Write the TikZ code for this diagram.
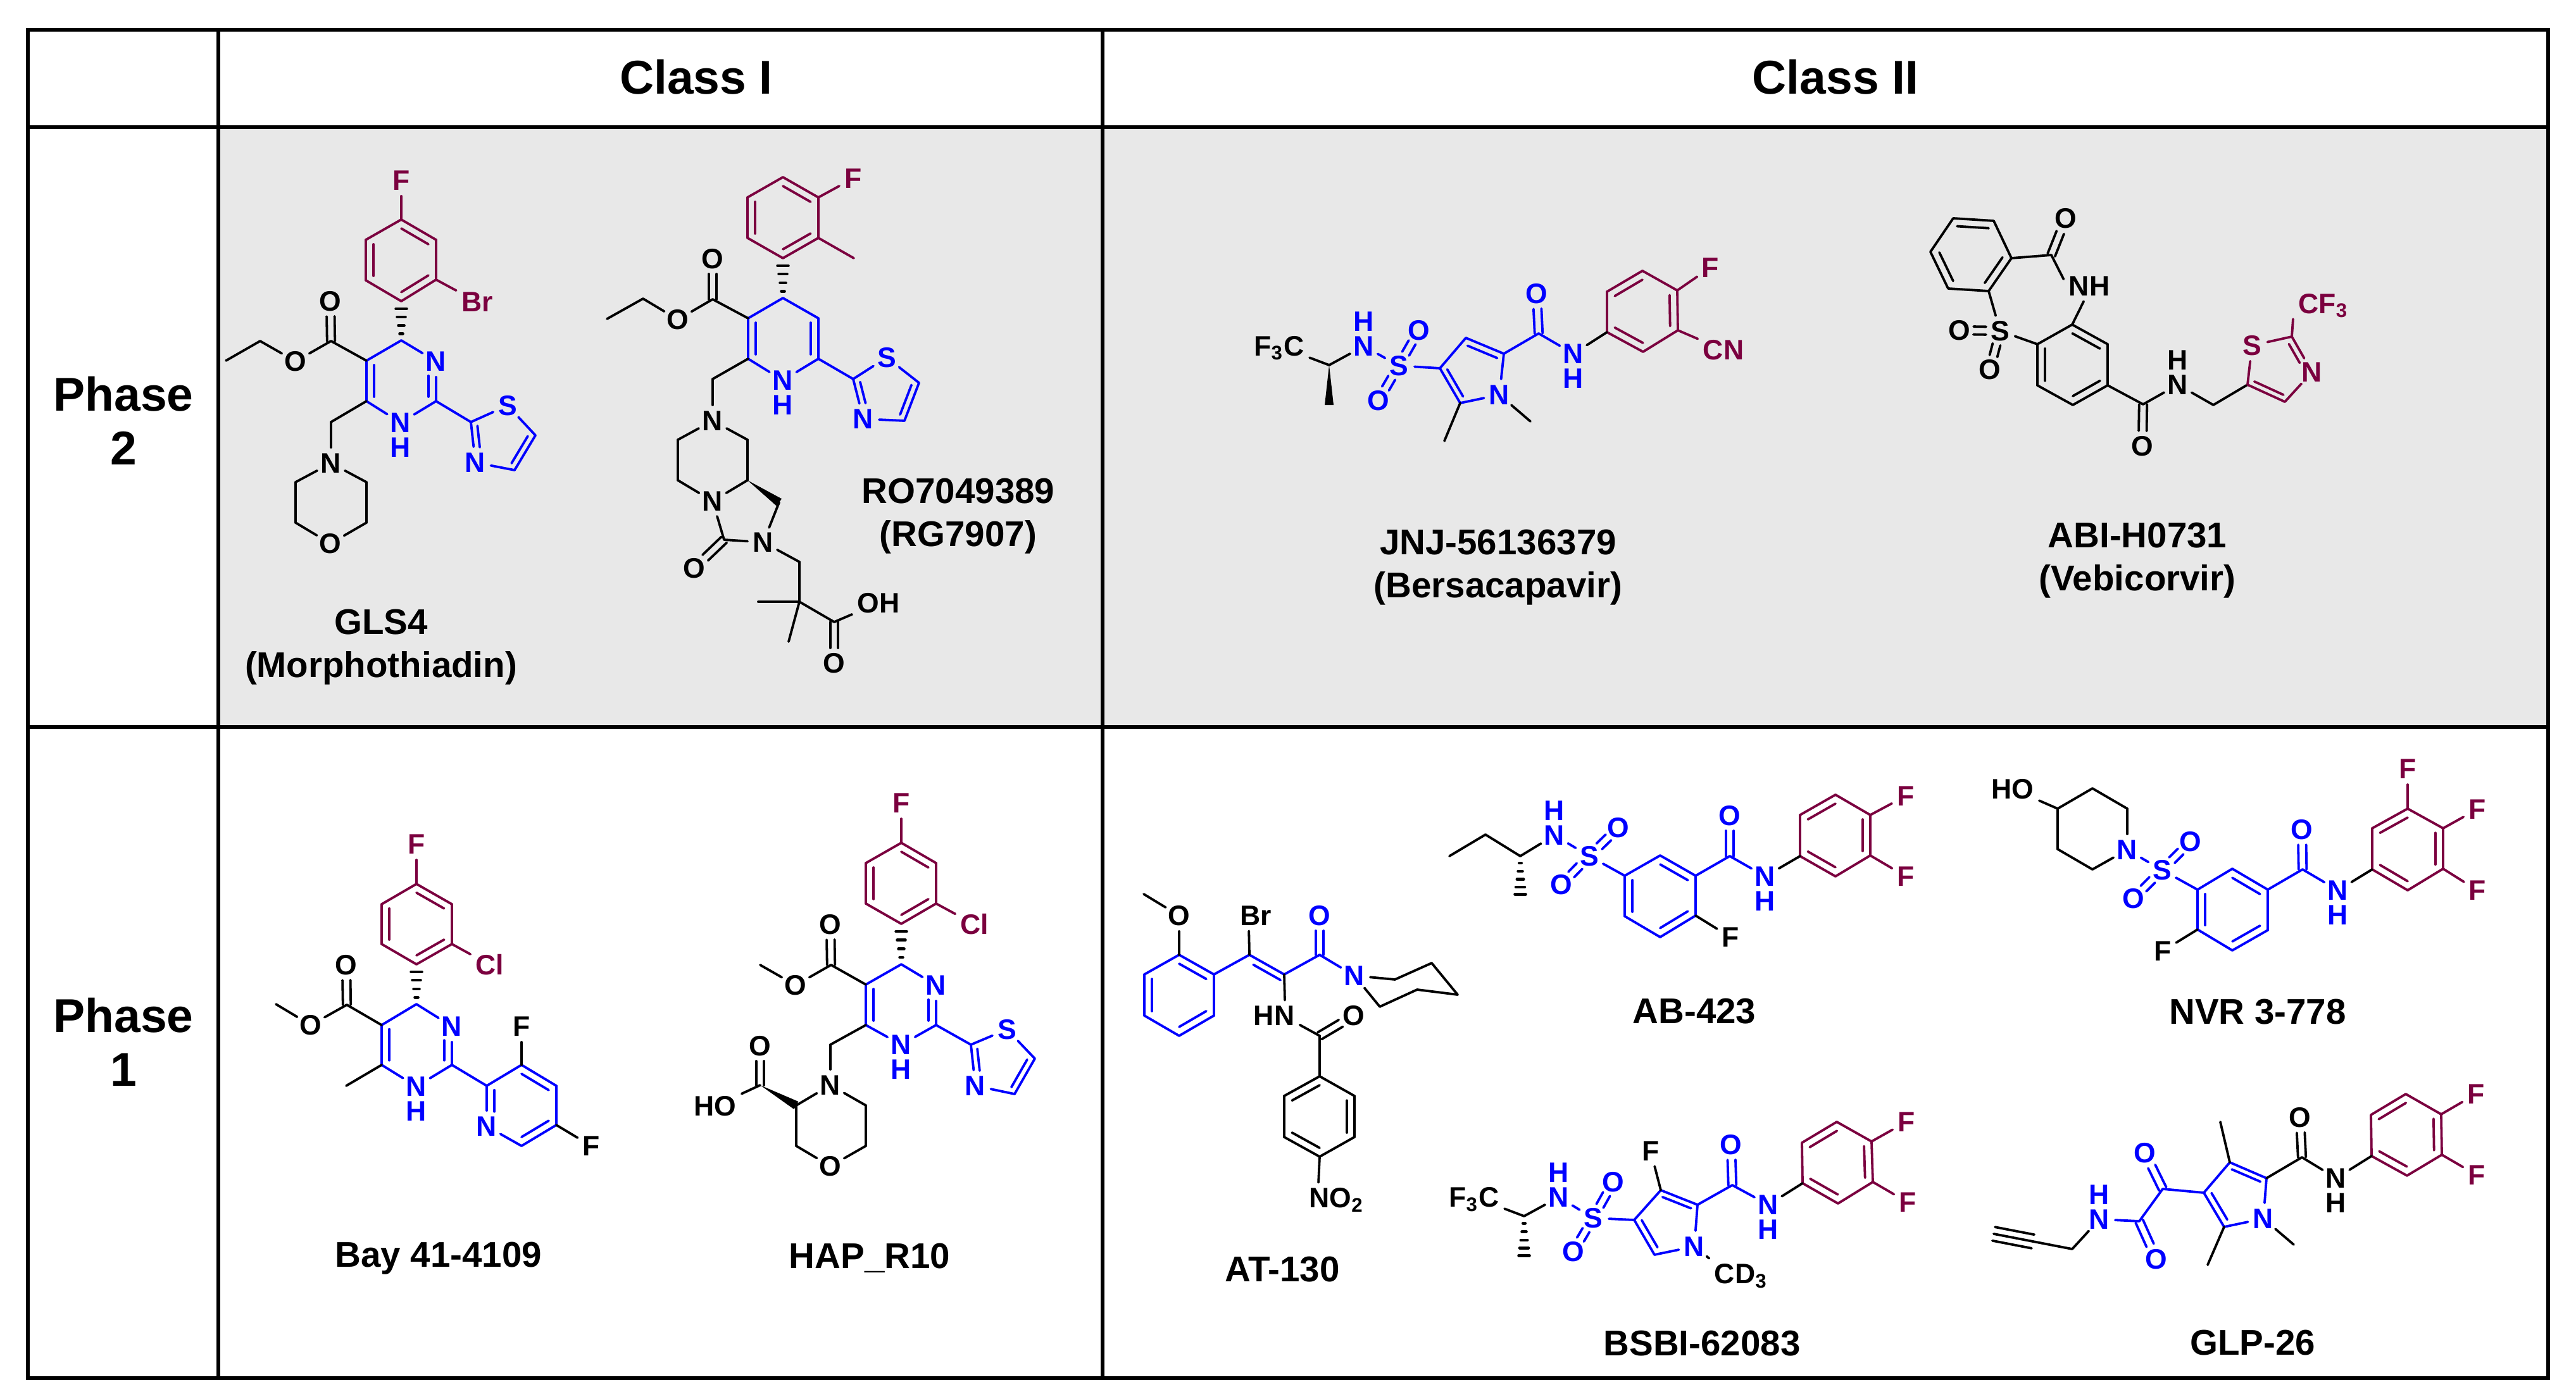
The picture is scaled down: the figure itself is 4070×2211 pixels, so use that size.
\documentclass[tikz,border=0pt]{standalone}
\usepackage{fontspec}
\setmainfont{Liberation Sans}
\usetikzlibrary{calc,positioning}
\definecolor{hblue}{HTML}{0000FF}
\definecolor{hplum}{HTML}{7B003F}
\definecolor{cellgray}{HTML}{E8E8E8}
\tikzset{
	atom/.style={font=\bfseries\fontsize{8.9}{10}\selectfont,circle,minimum size=9.6pt,inner sep=0pt,text height=6.3pt,text depth=0pt},
	atomb/.style={atom,text=hblue},
	atomm/.style={atom,text=hplum},
	group/.style={font=\bfseries\fontsize{8.9}{10}\selectfont,rectangle,inner sep=1.5pt,text height=6.3pt,text depth=0pt},
	groupm/.style={group,text=hplum},
	bond/.style={line width=.76pt,line cap=round,line join=round},
	sulf/.style={shorten <=4.4pt,shorten >=4.4pt},
	title/.style={font=\bfseries\fontsize{11.3}{13.6}\selectfont,align=center},
	head/.style={font=\bfseries\fontsize{15}{17}\selectfont,align=center},
	grid/.style={line width=1.1pt},
	gridv/.style={line width=1.3pt}
}
% inner line of a ring double bond
\newcommand{\inbond}[4][]{\draw[bond,#1] ($(#2)!.22!(#4)$) -- ($(#3)!.22!(#4)$);}
% two lines side by side, stopping short of the second atom
\newcommand{\dbl}[3][]{
	\draw[bond,shorten >=4.8pt,#1] ($(#2)!1.25pt!90:(#3)$) -- ($(#3)!1.25pt!-90:(#2)$);
	\draw[bond,shorten >=4.8pt,#1] ($(#2)!1.25pt!-90:(#3)$) -- ($(#3)!1.25pt!90:(#2)$);}
\newcommand{\wedgeb}[2]{\fill (#1) -- ($(#2)!1.4pt!90:(#1)$) -- ($(#2)!1.4pt!-90:(#1)$) -- cycle;}
\newcommand{\dashb}[4]{\draw[bond,line width=.9pt] ($(#1)!#3!(#2)!#4pt!90:(#2)$) -- ($(#1)!#3!(#2)!#4pt!-90:(#2)$);}
\newcommand{\hashb}[2]{\dashb{#1}{#2}{.17}{.5}\dashb{#1}{#2}{.38}{.9}\dashb{#1}{#2}{.6}{1.3}\dashb{#1}{#2}{.81}{1.7}}
\newcommand{\hashc}[2]{\dashb{#1}{#2}{.18}{.35}\dashb{#1}{#2}{.39}{.7}\dashb{#1}{#2}{.6}{1.05}\dashb{#1}{#2}{.8}{1.4}\dashb{#1}{#2}{.99}{1.7}}

\begin{document}
\begin{tikzpicture}[x=.2pt,y=-.2pt]
	\useasboundingbox (0,0) rectangle (4070,2211);
	% table
	\fill[cellgray] (345,201) rectangle (4026,1149);
	\draw[grid] (44,47) rectangle (4026,2178);
	\draw[grid] (44,201) -- (4026,201);
	\draw[grid] (44,1149) -- (4026,1149);
	\draw[gridv] (345,47) -- (345,2178);
	\draw[gridv] (1742,47) -- (1742,2178);
	\node[head] (class1) at (1100,122) {Class I};
	\node[head] (class2) at (2900,122) {Class II};
	\node[head] (phase2) at (195,665) {Phase\\2};
	\node[head] (phase1) at (195,1647) {Phase\\1};

	% GLS4
	\begin{scope}[name prefix=gls-]
		\coordinate (a1) at (634,347); \coordinate (a2) at (689,379); \coordinate (a3) at (689,442);
		\coordinate (a4) at (634,476); \coordinate (a5) at (578,443); \coordinate (a6) at (578,379);
		\coordinate (ac) at (634,411);
		\node[atomm] (f) at (634,285) {F};
		\node[groupm] (br) at (754,477) {Br};
		\coordinate (c4) at (634,538); \coordinate (c2) at (689,634); \coordinate (c6) at (579,634);
		\coordinate (c5) at (579,570); \coordinate (pc) at (634,602);
		\node[atomb] (n3) at (689,571) {N};
		\node[atomb] (n1) at (633,668) {N};
		\node[atomb,below=-2.2pt of n1] (h1) {H};
		\coordinate (ce) at (523,539); \coordinate (cm) at (411,539); \coordinate (me) at (357,570);
		\node[atom] (oe) at (522,476) {O};
		\node[atom] (oa) at (467,571) {O};
		\coordinate (cl) at (523,667); \coordinate (m1) at (467,762); \coordinate (m2) at (467,826);
		\coordinate (m3) at (579,826); \coordinate (m4) at (579,762);
		\node[atom] (nm) at (523,732) {N};
		\node[atom] (om) at (522,859) {O};
		\coordinate (t2) at (744,667); \coordinate (t5) at (846,688); \coordinate (t4) at (813,743);
		\coordinate (tc) at (791,694);
		\node[atomb] (ts) at (802,641) {S};
		\node[atomb] (tn) at (751,731) {N};
		\path[bond,hplum]
		(a1) edge (a2) (a2) edge (a3) (a3) edge (a4) (a4) edge (a5) (a5) edge (a6) (a6) edge (a1)
		(a1) edge (f) (a3) edge (br);
		\inbond[hplum]{a1}{a2}{ac} \inbond[hplum]{a3}{a4}{ac} \inbond[hplum]{a5}{a6}{ac}
		\hashb{c4}{a4}
		\path[bond,hblue]
		(c4) edge (n3) (n3) edge (c2) (c2) edge (n1) (n1) edge (c6) (c6) edge (c5) (c5) edge (c4)
		(c2) edge (t2) (t2) edge (ts) (ts) edge (t5) (t5) edge (t4) (t4) edge (tn) (tn) edge (t2);
		\inbond[hblue]{c5}{c6}{pc} \inbond[hblue,shorten <=3.2pt]{n3}{c2}{pc}
		\inbond[hblue]{t5}{t4}{tc} \inbond[hblue,shorten >=3.2pt]{t2}{tn}{tc}
		\path[bond]
		(c5) edge (ce) (ce) edge (oa) (oa) edge (cm) (cm) edge (me)
		(c6) edge (cl) (cl) edge (nm) (nm) edge (m1) (m1) edge (m2) (m2) edge (om)
		(om) edge (m3) (m3) edge (m4) (m4) edge (nm);
		\dbl{ce}{oe}
		\node[title] (label) at (602,1023) {GLS4\\(Morphothiadin)};
	\end{scope}

	% RO7049389
	\begin{scope}[name prefix=ro-]
		\coordinate (a1) at (1237,280); \coordinate (a2) at (1293,312); \coordinate (a3) at (1293,376);
		\coordinate (a4) at (1237,408); \coordinate (a5) at (1181,376); \coordinate (a6) at (1181,312);
		\coordinate (ac) at (1237,344); \coordinate (mar) at (1349,408);
		\node[atomm] (f) at (1348,282) {F};
		\coordinate (c4) at (1237,471); \coordinate (c3) at (1182,503); \coordinate (c2) at (1182,567);
		\coordinate (c6) at (1293,567); \coordinate (c5) at (1293,503); \coordinate (pc) at (1237,535);
		\node[atomb] (n1) at (1237,601) {N};
		\node[atomb,below=-2.2pt of n1] (h1) {H};
		\coordinate (ce) at (1126,473); \coordinate (cm) at (1016,472); \coordinate (me) at (959,504);
		\node[atom] (oe) at (1126,409) {O};
		\node[atom] (oa) at (1071,505) {O};
		\coordinate (cl) at (1126,599); \coordinate (p1) at (1071,695); \coordinate (p2) at (1071,759);
		\coordinate (p3) at (1181,759); \coordinate (p4) at (1181,695); \coordinate (w1) at (1231,794);
		\coordinate (co) at (1144,853); \coordinate (ch) at (1263,888); \coordinate (cq) at (1263,951);
		\coordinate (q1) at (1198,951); \coordinate (q2) at (1246,1014); \coordinate (ca) at (1318,983);
		\node[atom] (n4) at (1126,665) {N};
		\node[atom] (n5) at (1126,792) {N};
		\node[atom] (n6) at (1206,857) {N};
		\node[atom] (ou) at (1097,898) {O};
		\node[group] (oh) at (1388,953) {OH};
		\node[atom] (oc) at (1318,1048) {O};
		\coordinate (t2) at (1348,599); \coordinate (t5) at (1452,605); \coordinate (t4) at (1429,665);
		\coordinate (tc) at (1398,620);
		\node[atomb] (ts) at (1401,565) {S};
		\node[atomb] (tn) at (1364,662) {N};
		\path[bond,hplum]
		(a1) edge (a2) (a2) edge (a3) (a3) edge (a4) (a4) edge (a5) (a5) edge (a6) (a6) edge (a1)
		(a2) edge (f) (a3) edge (mar);
		\inbond[hplum]{a1}{a2}{ac} \inbond[hplum]{a3}{a4}{ac} \inbond[hplum]{a5}{a6}{ac}
		\hashb{c4}{a4}
		\path[bond,hblue]
		(c4) edge (c3) (c3) edge (c2) (c2) edge (n1) (n1) edge (c6) (c6) edge (c5) (c5) edge (c4)
		(c6) edge (t2) (t2) edge (ts) (ts) edge (t5) (t5) edge (t4) (t4) edge (tn) (tn) edge (t2);
		\inbond[hblue]{c3}{c2}{pc} \inbond[hblue]{c5}{c6}{pc}
		\inbond[hblue]{t5}{t4}{tc} \inbond[hblue,shorten >=3.2pt]{t2}{tn}{tc}
		\path[bond]
		(c3) edge (ce) (ce) edge (oa) (oa) edge (cm) (cm) edge (me)
		(c2) edge (cl) (cl) edge (n4) (n4) edge (p1) (p1) edge (p2) (p2) edge (n5)
		(n5) edge (p3) (p3) edge (p4) (p4) edge (n4)
		(w1) edge (n6) (n6) edge (co) (co) edge (n5)
		(n6) edge (ch) (ch) edge (cq) (cq) edge (q1) (cq) edge (q2) (cq) edge (ca) (ca) edge (oh);
		\dbl{ce}{oe} \dbl{co}{ou} \dbl{ca}{oc}
		\wedgeb{p3}{w1}
		\node[title] (label) at (1514,816) {RO7049389\\(RG7907)};
	\end{scope}

	% JNJ-56136379
	\begin{scope}[name prefix=jnj-]
		\node[group] (cf) at (2021,547) {F\textsubscript{3}C};
		\coordinate (ch) at (2100,577); \coordinate (mw) at (2100,640);
		\node[atomb] (n) at (2155,547) {N};
		\node[atomb,above=-2.2pt of n] (h) {H};
		\node[atomb] (s) at (2210,578) {S};
		\node[atomb] (o1) at (2242,522) {O};
		\node[atomb] (o2) at (2178,633) {O};
		\coordinate (c3) at (2275,582); \coordinate (c4) at (2316,534); \coordinate (c5) at (2376,559);
		\coordinate (c2) at (2307,637); \coordinate (pc) at (2328,590);
		\coordinate (m1) at (2282,697); \coordinate (m2) at (2418,666);
		\node[atomb] (np) at (2369,624) {N};
		\coordinate (ca) at (2431,527);
		\node[atomb] (oa) at (2428,464) {O};
		\node[atomb] (na) at (2486,559) {N};
		\node[atomb,below=-2.2pt of na] (ha) {H};
		\coordinate (a1) at (2539,525); \coordinate (a2) at (2539,461); \coordinate (a3) at (2595,428);
		\coordinate (a4) at (2650,459); \coordinate (a5) at (2651,522); \coordinate (a6) at (2596,556);
		\coordinate (ac) at (2595,492);
		\node[atomm] (f) at (2702,423) {F};
		\node[groupm] (cn) at (2723,553) {CN};
		\path[bond,hplum]
		(a1) edge (a2) (a2) edge (a3) (a3) edge (a4) (a4) edge (a5) (a5) edge (a6) (a6) edge (a1)
		(a4) edge (f) (a5) edge (cn);
		\inbond[hplum]{a2}{a3}{ac} \inbond[hplum]{a4}{a5}{ac} \inbond[hplum]{a6}{a1}{ac}
		\path[bond,hblue]
		(n) edge (s) (s) edge (c3) (c3) edge (c4) (c4) edge (c5) (c5) edge (np) (np) edge (c2) (c2) edge (c3)
		(c5) edge (ca) (ca) edge (na);
		\inbond[hblue]{c3}{c2}{pc} \inbond[hblue]{c4}{c5}{pc}
		\dbl[hblue,sulf]{s}{o1} \dbl[hblue,sulf]{s}{o2} \dbl[hblue]{ca}{oa}
		\path[bond]
		(cf) edge (ch) (ch) edge (n) (c2) edge (m1) (np) edge (m2) (na) edge (a1);
		\wedgeb{ch}{mw}
		\node[title] (label) at (2367,897) {JNJ-56136379\\(Bersacapavir)};
	\end{scope}

	% ABI-H0731
	\begin{scope}[name prefix=abi-]
		\coordinate (b1) at (3086,345); \coordinate (b2) at (3150,349); \coordinate (b3) at (3178,408);
		\coordinate (b4) at (3142,460); \coordinate (b5) at (3078,456); \coordinate (b6) at (3050,398);
		\coordinate (bc) at (3114,402);
		\coordinate (co) at (3241,403);
		\node[atom] (oc) at (3264,345) {O};
		\node[group] (nh) at (3301,452) {NH};
		\node[atom] (s) at (3160,523) {S};
		\node[atom] (o1) at (3096,522) {O};
		\node[atom] (o2) at (3144,584) {O};
		\coordinate (r1) at (3274,513); \coordinate (r2) at (3330,544); \coordinate (r3) at (3330,609);
		\coordinate (r4) at (3275,640); \coordinate (r5) at (3219,609); \coordinate (r6) at (3219,544);
		\coordinate (rc) at (3275,576);
		\coordinate (ca) at (3386,639); \coordinate (ch) at (3497,640);
		\node[atom] (oa) at (3385,705) {O};
		\node[atom] (na) at (3441,608) {N};
		\node[atom,above=-2.2pt of na] (ha) {H};
		\coordinate (t5) at (3551,608); \coordinate (t2) at (3621,532); \coordinate (t4) at (3610,635);
		\coordinate (tc) at (3600,585);
		\node[atomm] (ts) at (3558,546) {S};
		\node[atomm] (tn) at (3653,588) {N};
		\node[groupm] (cf) at (3671,480) {CF\textsubscript{3}};
		\path[bond]
		(b1) edge (b2) (b2) edge (b3) (b3) edge (b4) (b4) edge (b5) (b5) edge (b6) (b6) edge (b1)
		(b3) edge (co) (co) edge (nh.165) (nh.250) edge (r1) (b4) edge (s) (s) edge (r6)
		(r1) edge (r2) (r2) edge (r3) (r3) edge (r4) (r4) edge (r5) (r5) edge (r6) (r6) edge (r1)
		(r3) edge (ca) (ca) edge (na) (na) edge (ch) (ch) edge (t5);
		\inbond{b1}{b2}{bc} \inbond{b3}{b4}{bc} \inbond{b5}{b6}{bc}
		\inbond{r1}{r2}{rc} \inbond{r3}{r4}{rc} \inbond{r5}{r6}{rc}
		\dbl{co}{oc} \dbl{ca}{oa} \dbl[sulf]{s}{o1} \dbl[sulf]{s}{o2}
		\path[bond,hplum]
		(t5) edge (ts) (ts) edge (t2) (t2) edge (tn) (tn) edge (t4) (t4) edge (t5) (t2) edge (cf.south west);
		\inbond[hplum]{t5}{t4}{tc} \inbond[hplum,shorten >=3.2pt]{t2}{tn}{tc}
		\node[title] (label) at (3377,886) {ABI-H0731\\(Vebicorvir)};
	\end{scope}

	% Bay 41-4109
	\begin{scope}[name prefix=bay-]
		\coordinate (a1) at (658,1397); \coordinate (a2) at (714,1429); \coordinate (a3) at (714,1492);
		\coordinate (a4) at (658,1524); \coordinate (a5) at (603,1492); \coordinate (a6) at (603,1429);
		\coordinate (ac) at (658,1460);
		\node[atomm] (f) at (658,1334) {F};
		\node[groupm] (cl) at (774,1525) {Cl};
		\coordinate (c4) at (658,1587); \coordinate (c2) at (714,1683); \coordinate (c6) at (603,1683);
		\coordinate (c5) at (603,1620); \coordinate (pc) at (658,1650);
		\node[atomb] (n3) at (714,1622) {N};
		\node[atomb] (n1) at (658,1717) {N};
		\node[atomb,below=-2.2pt of n1] (h1) {H};
		\coordinate (ce) at (548,1588); \coordinate (me) at (436,1587); \coordinate (mc) at (547,1716);
		\node[atom] (oe) at (547,1525) {O};
		\node[atom] (oa) at (491,1620) {O};
		\coordinate (y2) at (769,1716); \coordinate (y3) at (824,1683); \coordinate (y4) at (879,1716);
		\coordinate (y5) at (879,1778); \coordinate (y6) at (824,1811); \coordinate (yc) at (824,1747);
		\node[atomb] (yn) at (769,1780) {N};
		\node[atom] (f3) at (824,1622) {F};
		\node[atom] (f5) at (934,1811) {F};
		\path[bond,hplum]
		(a1) edge (a2) (a2) edge (a3) (a3) edge (a4) (a4) edge (a5) (a5) edge (a6) (a6) edge (a1)
		(a1) edge (f) (a3) edge (cl);
		\inbond[hplum]{a1}{a2}{ac} \inbond[hplum]{a3}{a4}{ac} \inbond[hplum]{a5}{a6}{ac}
		\hashb{c4}{a4}
		\path[bond,hblue]
		(c4) edge (n3) (n3) edge (c2) (c2) edge (n1) (n1) edge (c6) (c6) edge (c5) (c5) edge (c4)
		(c2) edge (y2) (y2) edge (y3) (y3) edge (y4) (y4) edge (y5) (y5) edge (y6) (y6) edge (yn) (yn) edge (y2);
		\inbond[hblue]{c5}{c6}{pc} \inbond[hblue,shorten <=3.2pt]{n3}{c2}{pc}
		\inbond[hblue]{y3}{y4}{yc} \inbond[hblue]{y5}{y6}{yc} \inbond[hblue,shorten >=3.2pt]{y2}{yn}{yc}
		\path[bond]
		(c5) edge (ce) (ce) edge (oa) (oa) edge (me) (c6) edge (mc) (y3) edge (f3) (y5) edge (f5);
		\dbl{ce}{oe}
		\node[title] (label) at (693,1989) {Bay 41-4109};
	\end{scope}

	% HAP_R10
	\begin{scope}[name prefix=hap-]
		\coordinate (a1) at (1424,1332); \coordinate (a2) at (1479,1364); \coordinate (a3) at (1479,1428);
		\coordinate (a4) at (1424,1460); \coordinate (a5) at (1368,1428); \coordinate (a6) at (1368,1364);
		\coordinate (ac) at (1424,1396);
		\node[atomm] (f) at (1424,1269) {F};
		\node[groupm] (cl) at (1540,1461) {Cl};
		\coordinate (c4) at (1424,1524); \coordinate (c2) at (1479,1620); \coordinate (c6) at (1368,1620);
		\coordinate (c5) at (1368,1556); \coordinate (pc) at (1424,1588);
		\node[atomb] (n3) at (1479,1557) {N};
		\node[atomb] (n1) at (1424,1651) {N};
		\node[atomb,below=-2.2pt of n1] (h1) {H};
		\coordinate (ce) at (1313,1525); \coordinate (me) at (1201,1525);
		\node[atom] (oe) at (1312,1461) {O};
		\node[atom] (oa) at (1257,1557) {O};
		\coordinate (cl2) at (1312,1651); \coordinate (m1) at (1258,1747); \coordinate (m2) at (1258,1811);
		\coordinate (m3) at (1368,1811); \coordinate (m4) at (1368,1747); \coordinate (ca) at (1201,1715);
		\node[atom] (nm) at (1312,1715) {N};
		\node[atom] (om) at (1312,1843) {O};
		\node[atom] (oc) at (1201,1653) {O};
		\node[group] (ho) at (1130,1748) {HO};
		\coordinate (t2) at (1534,1651); \coordinate (t5) at (1635,1673); \coordinate (t4) at (1603,1729);
		\coordinate (tc) at (1580,1680);
		\node[atomb] (ts) at (1591,1627) {S};
		\node[atomb] (tn) at (1541,1716) {N};
		\path[bond,hplum]
		(a1) edge (a2) (a2) edge (a3) (a3) edge (a4) (a4) edge (a5) (a5) edge (a6) (a6) edge (a1)
		(a1) edge (f) (a3) edge (cl);
		\inbond[hplum]{a1}{a2}{ac} \inbond[hplum]{a3}{a4}{ac} \inbond[hplum]{a5}{a6}{ac}
		\hashb{c4}{a4}
		\path[bond,hblue]
		(c4) edge (n3) (n3) edge (c2) (c2) edge (n1) (n1) edge (c6) (c6) edge (c5) (c5) edge (c4)
		(c2) edge (t2) (t2) edge (ts) (ts) edge (t5) (t5) edge (t4) (t4) edge (tn) (tn) edge (t2);
		\inbond[hblue]{c5}{c6}{pc} \inbond[hblue,shorten <=3.2pt]{n3}{c2}{pc}
		\inbond[hblue]{t5}{t4}{tc} \inbond[hblue,shorten >=3.2pt]{t2}{tn}{tc}
		\path[bond]
		(c5) edge (ce) (ce) edge (oa) (oa) edge (me)
		(c6) edge (cl2) (cl2) edge (nm) (nm) edge (m1) (m1) edge (m2) (m2) edge (om)
		(om) edge (m3) (m3) edge (m4) (m4) edge (nm) (ca) edge (ho);
		\dbl{ce}{oe} \dbl{ca}{oc}
		\wedgeb{ca}{m1}
		\node[title] (label) at (1374,1988) {HAP\_R10};
	\end{scope}

	% AT-130
	\begin{scope}[name prefix=at-]
		\coordinate (a1) at (1863,1509); \coordinate (a2) at (1918,1540); \coordinate (a3) at (1918,1605);
		\coordinate (a4) at (1863,1637); \coordinate (a5) at (1808,1605); \coordinate (a6) at (1808,1540);
		\coordinate (ac) at (1863,1573); \coordinate (me) at (1807,1413);
		\node[atom] (om) at (1863,1447) {O};
		\coordinate (v1) at (1974,1509); \coordinate (v2) at (2029,1540); \coordinate (vc) at (2002,1580);
		\coordinate (ck) at (2085,1509);
		\node[group] (br) at (1984,1447) {Br};
		\node[atomb] (ok) at (2085,1447) {O};
		\node[atomb] (np) at (2140,1542) {N};
		\coordinate (p1) at (2204,1548); \coordinate (p2) at (2262,1522); \coordinate (p3) at (2303,1572);
		\coordinate (p4) at (2239,1564); \coordinate (p5) at (2180,1591);
		\node[group] (hn) at (2013,1605) {HN};
		\coordinate (ca) at (2085,1637);
		\node[atom] (oa) at (2139,1605) {O};
		\coordinate (b1) at (2085,1701); \coordinate (b2) at (2140,1732); \coordinate (b3) at (2140,1797);
		\coordinate (b4) at (2085,1828); \coordinate (b5) at (2029,1797); \coordinate (b6) at (2029,1732);
		\coordinate (bc) at (2085,1765);
		\node[group] (no) at (2112,1893) {NO\textsubscript{2}};
		\path[bond,hblue]
		(a1) edge (a2) (a2) edge (a3) (a3) edge (a4) (a4) edge (a5) (a5) edge (a6) (a6) edge (a1)
		(a2) edge (v1) (v1) edge (v2) (v2) edge (ck) (ck) edge (np);
		\inbond[hblue]{a1}{a2}{ac} \inbond[hblue]{a3}{a4}{ac} \inbond[hblue]{a5}{a6}{ac}
		\inbond[hblue]{v1}{v2}{vc}
		\dbl[hblue]{ck}{ok}
		\path[bond]
		(a1) edge (om) (om) edge (me) (v1) edge (br.246) (v2) edge (hn.55) (hn.-20) edge (ca)
		(ca) edge (b1) (np) edge (p1) (p1) edge (p2) (p2) edge (p3) (p3) edge (p4) (p4) edge (p5) (p5) edge (np)
		(b1) edge (b2) (b2) edge (b3) (b3) edge (b4) (b4) edge (b5) (b5) edge (b6) (b6) edge (b1)
		(b4) edge (no.140);
		\inbond{b1}{b6}{bc} \inbond{b2}{b3}{bc} \inbond{b4}{b5}{bc}
		\dbl{ca}{oa}
		\node[title] (label) at (2026,2006) {AT-130};
	\end{scope}

	% AB-423
	\begin{scope}[name prefix=ab-]
		\coordinate (me) at (2290,1353); \coordinate (cm) at (2347,1319); \coordinate (ch) at (2402,1353);
		\coordinate (mh) at (2402,1414);
		\node[atomb] (n) at (2456,1320) {N};
		\node[atomb,above=-2.2pt of n] (h) {H};
		\node[atomb] (s) at (2511,1353) {S};
		\node[atomb] (o1) at (2557,1308) {O};
		\node[atomb] (o2) at (2467,1398) {O};
		\coordinate (r1) at (2567,1384); \coordinate (r2) at (2623,1352); \coordinate (r3) at (2679,1384);
		\coordinate (r4) at (2679,1447); \coordinate (r5) at (2623,1481); \coordinate (r6) at (2567,1448);
		\coordinate (rc) at (2623,1416);
		\node[atom] (fr) at (2734,1481) {F};
		\coordinate (ca) at (2733,1353);
		\node[atomb] (oa) at (2733,1289) {O};
		\node[atomb] (na) at (2789,1385) {N};
		\node[atomb,below=-2.2pt of na] (ha) {H};
		\coordinate (a1) at (2844,1353); \coordinate (a2) at (2844,1288); \coordinate (a3) at (2900,1256);
		\coordinate (a4) at (2955,1288); \coordinate (a5) at (2955,1352); \coordinate (a6) at (2900,1385);
		\coordinate (ac) at (2900,1320);
		\node[atomm] (f1) at (3011,1258) {F};
		\node[atomm] (f2) at (3011,1385) {F};
		\path[bond,hplum]
		(a1) edge (a2) (a2) edge (a3) (a3) edge (a4) (a4) edge (a5) (a5) edge (a6) (a6) edge (a1)
		(a4) edge (f1) (a5) edge (f2);
		\inbond[hplum]{a2}{a3}{ac} \inbond[hplum]{a4}{a5}{ac} \inbond[hplum]{a6}{a1}{ac}
		\path[bond,hblue]
		(n) edge (s) (s) edge (r1)
		(r1) edge (r2) (r2) edge (r3) (r3) edge (r4) (r4) edge (r5) (r5) edge (r6) (r6) edge (r1)
		(r3) edge (ca) (ca) edge (na);
		\inbond[hblue]{r2}{r3}{rc} \inbond[hblue]{r4}{r5}{rc} \inbond[hblue]{r6}{r1}{rc}
		\dbl[hblue,sulf]{s}{o1} \dbl[hblue,sulf]{s}{o2} \dbl[hblue]{ca}{oa}
		\path[bond]
		(me) edge (cm) (cm) edge (ch) (ch) edge (n) (r4) edge (fr) (na) edge (a1);
		\hashc{ch}{mh}
		\node[title] (label) at (2677,1598) {AB-423};
	\end{scope}

	% NVR 3-778
	\begin{scope}[name prefix=nvr-]
		\node[group] (ho) at (3180,1247) {HO};
		\coordinate (p1) at (3251,1278); \coordinate (p2) at (3306,1246); \coordinate (p3) at (3361,1278);
		\coordinate (p5) at (3306,1374); \coordinate (p6) at (3251,1342);
		\node[atomb] (n) at (3361,1343) {N};
		\node[atomb] (s) at (3416,1375) {S};
		\node[atomb] (o1) at (3461,1330) {O};
		\node[atomb] (o2) at (3371,1420) {O};
		\coordinate (r1) at (3472,1406); \coordinate (r2) at (3527,1373); \coordinate (r3) at (3583,1406);
		\coordinate (r4) at (3583,1470); \coordinate (r5) at (3527,1502); \coordinate (r6) at (3472,1469);
		\coordinate (rc) at (3527,1438);
		\node[atom] (fr) at (3417,1503) {F};
		\coordinate (ca) at (3638,1374);
		\node[atomb] (oa) at (3637,1311) {O};
		\node[atomb] (na) at (3694,1407) {N};
		\node[atomb,below=-2.2pt of na] (ha) {H};
		\coordinate (a1) at (3748,1374); \coordinate (a2) at (3748,1309); \coordinate (a3) at (3804,1278);
		\coordinate (a4) at (3860,1309); \coordinate (a5) at (3860,1373); \coordinate (a6) at (3804,1407);
		\coordinate (ac) at (3804,1342);
		\node[atomm] (f1) at (3804,1215) {F};
		\node[atomm] (f2) at (3914,1279) {F};
		\node[atomm] (f3) at (3914,1407) {F};
		\path[bond,hplum]
		(a1) edge (a2) (a2) edge (a3) (a3) edge (a4) (a4) edge (a5) (a5) edge (a6) (a6) edge (a1)
		(a3) edge (f1) (a4) edge (f2) (a5) edge (f3);
		\inbond[hplum]{a2}{a3}{ac} \inbond[hplum]{a4}{a5}{ac} \inbond[hplum]{a6}{a1}{ac}
		\path[bond,hblue]
		(n) edge (s) (s) edge (r1)
		(r1) edge (r2) (r2) edge (r3) (r3) edge (r4) (r4) edge (r5) (r5) edge (r6) (r6) edge (r1)
		(r3) edge (ca) (ca) edge (na);
		\inbond[hblue]{r2}{r3}{rc} \inbond[hblue]{r4}{r5}{rc} \inbond[hblue]{r6}{r1}{rc}
		\dbl[hblue,sulf]{s}{o1} \dbl[hblue,sulf]{s}{o2} \dbl[hblue]{ca}{oa}
		\path[bond]
		(ho) edge (p1) (p1) edge (p2) (p2) edge (p3) (p3) edge (n) (n) edge (p5) (p5) edge (p6) (p6) edge (p1)
		(r6) edge (fr) (na) edge (a1);
		\node[title] (label) at (3567,1599) {NVR 3-778};
	\end{scope}

	% BSBI-62083
	\begin{scope}[name prefix=bsbi-]
		\node[group] (cf) at (2329,1892) {F\textsubscript{3}C};
		\coordinate (ch) at (2408,1922); \coordinate (mh) at (2408,1985);
		\node[atomb] (n) at (2463,1892) {N};
		\node[atomb,above=-2.2pt of n] (h) {H};
		\node[atomb] (s) at (2517,1925) {S};
		\node[atomb] (o1) at (2549,1868) {O};
		\node[atomb] (o2) at (2486,1978) {O};
		\coordinate (c4) at (2582,1928); \coordinate (c3) at (2624,1881); \coordinate (c2) at (2682,1904);
		\coordinate (c5) at (2614,1983); \coordinate (pc) at (2636,1930);
		\node[atomb] (np) at (2677,1970) {N};
		\node[atom] (fp) at (2608,1819) {F};
		\node[group] (cd) at (2751,2013) {CD\textsubscript{3}};
		\coordinate (ca) at (2737,1873);
		\node[atomb] (oa) at (2735,1809) {O};
		\node[atomb] (na) at (2794,1904) {N};
		\node[atomb,below=-2.2pt of na] (ha) {H};
		\coordinate (a1) at (2848,1870); \coordinate (a2) at (2847,1806); \coordinate (a3) at (2902,1773);
		\coordinate (a4) at (2957,1804); \coordinate (a5) at (2959,1868); \coordinate (a6) at (2904,1902);
		\coordinate (ac) at (2903,1838);
		\node[atomm] (f1) at (3012,1773) {F};
		\node[atomm] (f2) at (3014,1900) {F};
		\path[bond,hplum]
		(a1) edge (a2) (a2) edge (a3) (a3) edge (a4) (a4) edge (a5) (a5) edge (a6) (a6) edge (a1)
		(a4) edge (f1) (a5) edge (f2);
		\inbond[hplum]{a2}{a3}{ac} \inbond[hplum]{a4}{a5}{ac} \inbond[hplum]{a6}{a1}{ac}
		\path[bond,hblue]
		(n) edge (s) (s) edge (c4) (c4) edge (c3) (c3) edge (c2) (c2) edge (np) (np) edge (c5) (c5) edge (c4)
		(c2) edge (ca) (ca) edge (na);
		\inbond[hblue]{c4}{c5}{pc} \inbond[hblue]{c3}{c2}{pc}
		\dbl[hblue,sulf]{s}{o1} \dbl[hblue,sulf]{s}{o2} \dbl[hblue]{ca}{oa}
		\path[bond]
		(cf) edge (ch) (ch) edge (n) (c3) edge (fp) (np) edge (cd.north west) (na) edge (a1);
		\hashc{ch}{mh}
		\node[title] (label) at (2689,2123) {BSBI-62083};
	\end{scope}

	% GLP-26
	\begin{scope}[name prefix=glp-]
		\coordinate (y1) at (3150,1950); \coordinate (y2) at (3212,1962); \coordinate (ch) at (3274,1974);
		\node[atomb] (n) at (3317,1927) {N};
		\node[atomb,above=-2.2pt of n] (h) {H};
		\coordinate (k1) at (3380,1930); \coordinate (k2) at (3417,1879);
		\node[atomb] (o1) at (3407,1990) {O};
		\node[atomb] (o2) at (3389,1822) {O};
		\coordinate (c3) at (3482,1885); \coordinate (c4) at (3523,1837); \coordinate (c5) at (3581,1862);
		\coordinate (c2) at (3514,1939); \coordinate (pc) at (3537,1887);
		\node[atomb] (np) at (3576,1926) {N};
		\coordinate (m1) at (3508,1773); \coordinate (m2) at (3488,1999); \coordinate (m3) at (3624,1967);
		\coordinate (ca) at (3637,1829);
		\node[atom] (oa) at (3634,1766) {O};
		\node[atom] (na) at (3691,1862) {N};
		\node[atom,below=-2.2pt of na] (ha) {H};
		\coordinate (a1) at (3747,1827); \coordinate (a2) at (3746,1762); \coordinate (a3) at (3801,1729);
		\coordinate (a4) at (3857,1761); \coordinate (a5) at (3858,1825); \coordinate (a6) at (3803,1858);
		\coordinate (ac) at (3802,1793);
		\node[atomm] (f1) at (3912,1729) {F};
		\node[atomm] (f2) at (3913,1857) {F};
		\path[bond,hplum]
		(a1) edge (a2) (a2) edge (a3) (a3) edge (a4) (a4) edge (a5) (a5) edge (a6) (a6) edge (a1)
		(a4) edge (f1) (a5) edge (f2);
		\inbond[hplum]{a2}{a3}{ac} \inbond[hplum]{a4}{a5}{ac} \inbond[hplum]{a6}{a1}{ac}
		\path[bond,hblue]
		(n) edge (k1) (k1) edge (k2) (k2) edge (c3)
		(c3) edge (c4) (c4) edge (c5) (c5) edge (np) (np) edge (c2) (c2) edge (c3);
		\inbond[hblue]{c3}{c2}{pc} \inbond[hblue]{c4}{c5}{pc}
		\dbl[hblue]{k1}{o1} \dbl[hblue]{k2}{o2}
		\path[bond]
		(y1) edge (ch) (ch) edge (n)
		(c4) edge (m1) (c2) edge (m2) (np) edge (m3)
		(c5) edge (ca) (ca) edge (na) (na) edge (a1);
		\draw[bond] ($(y1)!2.2pt!90:(y2)$) -- ($(y2)!2.2pt!-90:(y1)$);
		\draw[bond] ($(y1)!2.2pt!-90:(y2)$) -- ($(y2)!2.2pt!90:(y1)$);
		\dbl{ca}{oa}
		\node[title] (label) at (3559,2122) {GLP-26};
	\end{scope}
\end{tikzpicture}
\end{document}
